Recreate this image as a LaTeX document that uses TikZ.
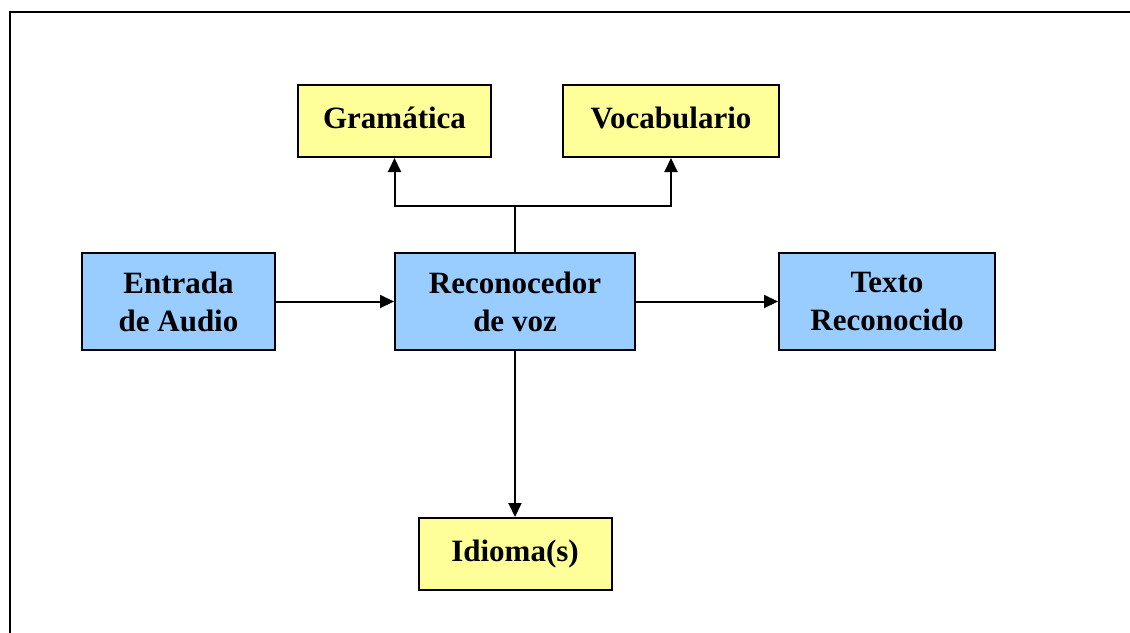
\documentclass[tikz,border=0pt]{standalone}
\usepackage{fontspec}
\setmainfont{Liberation Serif}
\usetikzlibrary{arrows.meta}
\definecolor{boxyellow}{HTML}{FFFF99}
\definecolor{boxblue}{HTML}{99CCFF}
\tikzset{
  yellowbox/.style={draw,line width=2pt,fill=boxyellow,inner sep=0pt,
    font=\fontsize{31}{38}\selectfont\bfseries,align=center},
  bluebox/.style={draw,line width=2pt,fill=boxblue,inner sep=0pt,
    font=\fontsize{31}{38}\selectfont\bfseries,align=center},
  link/.style={line width=2pt,-{Triangle[length=14pt,width=13pt]}}
}
\begin{document}
\begin{tikzpicture}[x=1pt,y=-1pt]
  \useasboundingbox (0,0) rectangle (1130,632);
  \clip (0,0) rectangle (1130,632);
  \draw[line width=2.5pt] (10,660) -- (10,12) -- (1160,12);
  % boxes
  \node[yellowbox,minimum width=193pt,minimum height=72pt] (gram) at (394.5,121) {Gramática\vphantom{g}};
  \node[yellowbox,minimum width=216pt,minimum height=72pt] (vocab) at (671,121) {Vocabulario\vphantom{g}};
  \node[bluebox,minimum width=193pt,minimum height=97pt] (audio) at (178.5,301.5) {Entrada\\de Audio};
  \node[bluebox,minimum width=240pt,minimum height=97pt] (recog) at (515,301.5) {Reconocedor\\de voz};
  \node[bluebox,minimum width=216pt,minimum height=97pt] (texto) at (887,301.5) {Texto\\Reconocido};
  \node[yellowbox,minimum width=193pt,minimum height=72pt] (idioma) at (515,554) {Idioma(s)};
  % connectors
  \coordinate (split) at (recog.north |- 0,206);
  \draw[line width=2pt] (recog.north) -- (split);
  \draw[link] (split) -| (gram.south);
  \draw[link] (split) -| (vocab.south);
  \draw[link] (audio) -- (recog);
  \draw[link] (recog) -- (texto);
  \draw[link] (recog) -- (idioma);
\end{tikzpicture}
\end{document}
